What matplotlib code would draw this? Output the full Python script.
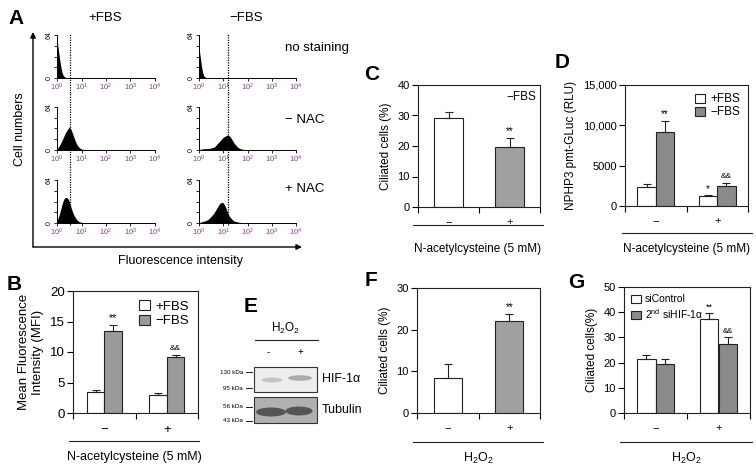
import numpy as np
import matplotlib
matplotlib.use('Agg')
import matplotlib.pyplot as plt
from matplotlib.patches import Patch, Rectangle, Ellipse

plt.rcParams['font.family'] = ['Liberation Sans', 'DejaVu Sans']
plt.rcParams['mathtext.fontset'] = 'custom'
plt.rcParams['mathtext.rm'] = 'Liberation Sans'
plt.rcParams['mathtext.it'] = 'Liberation Sans:italic'
plt.rcParams['mathtext.bf'] = 'Liberation Sans:bold'

# ---- data ----
# flow cytometry histograms (log10 fluorescence bins, counts 0-64)
BIN_LOG = [0.00, 0.05, 0.10, 0.15, 0.20, 0.25, 0.30, 0.35, 0.40, 0.45,
           0.50, 0.55, 0.60, 0.65, 0.70, 0.75, 0.80, 0.85, 0.90, 0.95,
           1.00, 1.05, 1.10, 1.15, 1.20, 1.25, 1.30, 1.35, 1.40, 1.45,
           1.50, 1.55, 1.60, 1.65, 1.70, 1.75, 1.80, 1.85, 1.90, 1.95, 2.00]
plus_nostain = [57, 44, 30, 18, 9, 4, 2, 1, 0.5, 0,
                0, 0, 0, 0, 0, 0, 0, 0, 0, 0,
                0, 0, 0, 0, 0, 0, 0, 0, 0, 0,
                0, 0, 0, 0, 0, 0, 0, 0, 0, 0, 0]
plus_nacminus = [0, 4, 7, 10, 14, 18, 22, 26, 29, 32,
                 34, 32, 28, 23, 18, 13, 9, 6, 4, 2.5,
                 1.5, 1, 0.5, 0, 0, 0, 0, 0, 0, 0,
                 0, 0, 0, 0, 0, 0, 0, 0, 0, 0, 0]
plus_nacplus = [2, 8, 13, 20, 27, 33, 37, 38, 38, 36,
                32, 26, 20, 15, 11, 8, 5, 3.5, 2, 1.5,
                1, 0.5, 0.5, 0, 0, 0, 0, 0, 0, 0,
                0, 0, 0, 0, 0, 0, 0, 0, 0, 0, 0]
minus_nostain = [45, 32, 18, 8, 3, 1.5, 0.5, 0, 0, 0,
                 0, 0, 0, 0, 0, 0, 0, 0, 0, 0,
                 0, 0, 0, 0, 0, 0, 0, 0, 0, 0,
                 0, 0, 0, 0, 0, 0, 0, 0, 0, 0, 0]
minus_nacminus = [0, 1, 1.5, 1.5, 2, 2, 2, 2, 2.5, 2.5,
                  3, 3.5, 4, 5, 7, 9, 11, 13, 15, 17,
                  19, 20, 21, 22, 22, 21, 19, 16, 13, 10,
                  8, 6, 4, 3, 2, 1.5, 1, 1, 0.5, 0, 0]
minus_nacplus = [0, 1, 2, 2, 3, 3, 4, 5, 6, 8,
                 10, 12, 14, 17, 20, 23, 26, 29, 30, 31,
                 30, 27, 23, 18, 14, 10, 8, 6, 4, 3,
                 2.5, 2, 1.5, 1, 1, 0.5, 0.5, 0, 0, 0, 0]
GATE_LOG = {'+FBS': 0.53, '−FBS': 1.2}
ROW_NAMES = ['no staining', '− NAC', '+ NAC']

# B: mean fluorescence intensity
B_plus = [3.5, 3.0]
B_plus_err = [0.3, 0.25]
B_minus = [13.4, 9.1]
B_minus_err = [1.0, 0.45]

# C: ciliated cells, -FBS
C_vals = [29.3, 19.7]
C_err = [2.0, 3.0]

# D: NPHP3 pmt-GLuc
D_plus = [2300, 1200]
D_plus_err = [450, 180]
D_minus = [9200, 2450]
D_minus_err = [1300, 450]

# F: ciliated cells, H2O2
F_vals = [8.5, 22.2]
F_err = [3.2, 1.5]

# G: siControl vs siHIF-1a
G_ctrl = [21.6, 37.5]
G_ctrl_err = [1.5, 2.0]
G_si = [19.3, 27.2]
G_si_err = [2.3, 2.9]

CATS = ['−', '+']

W, H = 756, 471
fig = plt.figure(figsize=(W / 100, H / 100), dpi=100)


def px(x0, y0, x1, y1):
    return [x0 / W, 1 - y1 / H, (x1 - x0) / W, (y1 - y0) / H]


ov = fig.add_axes([0, 0, 1, 1])
ov.set_xlim(0, W)
ov.set_ylim(H, 0)
ov.axis('off')
ov.set_zorder(10)

EDGE = '#222222'

# ---- panel A ----
hist_data = {('+FBS', 0): plus_nostain, ('+FBS', 1): plus_nacminus, ('+FBS', 2): plus_nacplus,
             ('−FBS', 0): minus_nostain, ('−FBS', 1): minus_nacminus, ('−FBS', 2): minus_nacplus}
cols = [('+FBS', 57, 155), ('−FBS', 199, 296)]
rows = [(35, 78), (107, 150), (180, 223)]
xb = 10 ** np.array(BIN_LOG)
for name, x0, x1 in cols:
    for r, (y0, y1) in enumerate(rows):
        ax = fig.add_axes(px(x0, y0, x1, y1))
        ax.fill_between(xb, hist_data[(name, r)], color='black', lw=0)
        ax.set_xscale('log')
        ax.set_xlim(1, 1e4)
        ax.set_xticks([1, 10, 100, 1000, 10000])
        ax.set_xticklabels(['$10^{0}$', '$10^{1}$', '$10^{2}$', '$10^{3}$', '$10^{4}$'])
        ax.set_ylim(0, 64)
        ax.set_yticks([0, 64])
        ax.set_yticklabels(['0', '64'], rotation=90, va='center', fontsize=5)
        ax.set_yticks([16, 32, 48], minor=True)
        ax.tick_params(axis='y', which='both', length=2, width=0.6, pad=1)
        ax.tick_params(axis='x', which='major', length=2, width=0.6, pad=1,
                       labelsize=5.5, labelcolor='#8a3f95')
        ax.tick_params(axis='x', which='minor', length=1, width=0.4)
        for s in ['top', 'right']:
            ax.spines[s].set_visible(False)
        for s in ['left', 'bottom']:
            ax.spines[s].set_linewidth(0.7)
        ymin = -0.34 if r < 2 else -0.05
        ymax = 1.05 if r == 0 else 1.34
        ax.axvline(10 ** GATE_LOG[name], ymin=ymin, ymax=ymax, ls=(0, (1, 1)),
                   lw=0.9, color='black', clip_on=False)
        ax.patch.set_visible(False)

ov.text(8, 19, 'A', fontsize=15, fontweight='bold', ha='left', va='center')
ov.text(105, 18, '+FBS', fontsize=9.5, ha='center', va='center')
ov.text(246, 18, '−FBS', fontsize=9.5, ha='center', va='center')
for label, yy in zip(ROW_NAMES, [48, 120, 189]):
    ov.text(285, yy, label, fontsize=9.5, ha='left', va='center')
ov.annotate('', xy=(33, 32), xytext=(33, 247),
            arrowprops=dict(arrowstyle='-|>', lw=1, color='black', mutation_scale=8,
                            shrinkA=0, shrinkB=0))
ov.annotate('', xy=(302, 247), xytext=(33, 247),
            arrowprops=dict(arrowstyle='-|>', lw=1, color='black', mutation_scale=8,
                            shrinkA=0, shrinkB=0))
ov.text(20, 129, 'Cell numbers', fontsize=9, rotation=90, ha='center', va='center')
ov.text(180, 261, 'Fluorescence intensity', fontsize=9, ha='center', va='center')


# ---- bar panels ----
def bar_axes(rect, ylim, yticks, yticklabels, ylabel, fs_tick=8, fs_label=8.5, pad=7):
    ax = fig.add_axes(px(*rect))
    ax.set_xlim(-0.5, 1.5)
    ax.set_ylim(*ylim)
    ax.set_yticks(yticks)
    ax.set_yticklabels(yticklabels, fontsize=fs_tick)
    ax.set_xticks([0, 1])
    ax.set_xticklabels(CATS, fontsize=fs_tick)
    ax.set_xticks([-0.5, 0.5, 1.5], minor=True)
    ax.tick_params(axis='x', which='major', length=0, pad=pad)
    ax.tick_params(axis='x', which='minor', length=4, width=0.8, direction='out')
    ax.tick_params(axis='y', length=4, width=0.8, direction='out', pad=2)
    for s in ax.spines.values():
        s.set_linewidth(0.8)
        s.set_color(EDGE)
    ax.set_ylabel(ylabel, fontsize=fs_label, labelpad=4)
    return ax


def draw_bars(ax, xs, vals, errs, color, width):
    ax.bar(xs, vals, width, color=color, edgecolor=EDGE, linewidth=0.8, zorder=2)
    ax.errorbar(xs, vals, yerr=[[0] * len(vals), errs], fmt='none', ecolor=EDGE,
                elinewidth=0.8, capsize=3, capthick=0.8, zorder=3)


def mark(ax, x, top, text, dy, fs=7):
    ax.text(x, top + dy, text, ha='center', va='bottom', fontsize=fs)


def under(x0, x1, yline, ytext, text, fs=8.5):
    ov.plot([x0, x1], [yline, yline], color=EDGE, lw=0.8)
    ov.text((x0 + x1) / 2, ytext, text, fontsize=fs, ha='center', va='center')


# B
axB = bar_axes((73, 291, 198, 413), (0, 20), [0, 5, 10, 15, 20],
               ['0', '5', '10', '15', '20'], 'Mean Fluorescence\nIntensity (MFI)',
               fs_tick=9.5, fs_label=9.5, pad=8)
draw_bars(axB, [-0.14, 0.86], B_plus, B_plus_err, 'white', 0.28)
draw_bars(axB, [0.14, 1.14], B_minus, B_minus_err, '#9a9a9a', 0.28)
mark(axB, 0.14, B_minus[0] + B_minus_err[0], '**', 0.4, 7.5)
mark(axB, 1.14, B_minus[1] + B_minus_err[1], '&&', 0.5, 6)
axB.legend(handles=[Patch(facecolor='white', edgecolor=EDGE, lw=0.8, label='+FBS'),
                    Patch(facecolor='#9a9a9a', edgecolor=EDGE, lw=0.8, label='−FBS')],
           loc='upper right', frameon=False, fontsize=9.5, handlelength=0.8,
           handleheight=0.8, handletextpad=0.4, labelspacing=0.15, borderaxespad=0.3)
ov.text(14, 285, 'B', fontsize=15, fontweight='bold', ha='center', va='center')
under(69, 199, 441, 457, 'N-acetylcysteine (5 mM)', fs=9)

# C
axC = bar_axes((418, 85, 540, 207), (0, 40), [0, 10, 20, 30, 40],
               ['0', '10', '20', '30', '40'], 'Ciliated cells (%)')
axC.bar([0], [C_vals[0]], 0.47, color='white', edgecolor=EDGE, lw=0.8, zorder=2)
axC.bar([1], [C_vals[1]], 0.47, color='#a0a0a0', edgecolor=EDGE, lw=0.8, zorder=2)
axC.errorbar([0, 1], C_vals, yerr=[[0, 0], C_err], fmt='none', ecolor=EDGE,
             elinewidth=0.8, capsize=3, capthick=0.8, zorder=3)
mark(axC, 1, C_vals[1] + C_err[1], '**', 0.6)
axC.text(0.97, 0.9, '−FBS', transform=axC.transAxes, ha='right', va='center', fontsize=8.5)
ov.text(372, 75, 'C', fontsize=15, fontweight='bold', ha='center', va='center')
under(413, 543, 225, 249, 'N-acetylcysteine (5 mM)')

# D
axD = bar_axes((625, 85, 748, 206), (0, 15000), [0, 5000, 10000, 15000],
               ['0', '5000', '10,000', '15,000'], 'NPHP3 pmt-GLuc (RLU)')
draw_bars(axD, [-0.15, 0.85], D_plus, D_plus_err, 'white', 0.3)
draw_bars(axD, [0.15, 1.15], D_minus, D_minus_err, '#8a8a8a', 0.3)
mark(axD, 0.15, D_minus[0] + D_minus_err[0], '**', 250)
mark(axD, -0.15 + 1, D_plus[1] + D_plus_err[1], '*', 150)
mark(axD, 1.15, D_minus[1] + D_minus_err[1], '&&', 300, 6)
axD.legend(handles=[Patch(facecolor='white', edgecolor=EDGE, lw=0.8, label='+FBS'),
                    Patch(facecolor='#8a8a8a', edgecolor=EDGE, lw=0.8, label='−FBS')],
           loc='upper right', frameon=False, fontsize=8.5, handlelength=0.9,
           handleheight=0.8, handletextpad=0.4, labelspacing=0.1, borderaxespad=0.3)
ov.text(562, 62, 'D', fontsize=15, fontweight='bold', ha='center', va='center')
under(622, 752, 233, 249, 'N-acetylcysteine (5 mM)')

# E: western blot
ov.text(251, 307, 'E', fontsize=15, fontweight='bold', ha='center', va='center')
ov.text(286, 328, 'H$_2$O$_2$', fontsize=8.5, ha='center', va='center')
ov.plot([255, 318], [340, 340], color=EDGE, lw=0.8)
ov.text(268, 352, '-', fontsize=7, ha='center', va='center')
ov.text(300, 352, '+', fontsize=7, ha='center', va='center')
ov.add_patch(Rectangle((254, 367), 63, 25, facecolor='#ededed', edgecolor='#333333', lw=0.8))
ov.add_patch(Ellipse((272, 380), 21, 5, facecolor='#c6c6c6', edgecolor='none'))
ov.add_patch(Ellipse((300, 378), 24, 5.5, facecolor='#acacac', edgecolor='none'))
ov.add_patch(Rectangle((254, 397), 63, 26, facecolor='#b0b0b0', edgecolor='#333333', lw=0.8))
ov.add_patch(Ellipse((271, 412), 30, 9, facecolor='#555555', edgecolor='none'))
ov.add_patch(Ellipse((299, 411), 27, 9, facecolor='#555555', edgecolor='none'))
for lab, yy in zip(['130 kDa', '95 kDa', '56 kDa', '43 kDa'], [372, 388, 407, 421]):
    ov.text(243, yy, lab, fontsize=4.5, ha='right', va='center')
    ov.plot([246, 252], [yy, yy], color=EDGE, lw=0.7)
ov.text(322, 379, 'HIF-1α', fontsize=9, ha='left', va='center')
ov.text(322, 410, 'Tubulin', fontsize=9, ha='left', va='center')

# F
axF = bar_axes((417, 288, 540, 413), (0, 30), [0, 10, 20, 30],
               ['0', '10', '20', '30'], 'Ciliated cells (%)')
axF.bar([0], [F_vals[0]], 0.45, color='white', edgecolor=EDGE, lw=0.8, zorder=2)
axF.bar([1], [F_vals[1]], 0.45, color='#a0a0a0', edgecolor=EDGE, lw=0.8, zorder=2)
axF.errorbar([0, 1], F_vals, yerr=[[0, 0], F_err], fmt='none', ecolor=EDGE,
             elinewidth=0.8, capsize=3, capthick=0.8, zorder=3)
mark(axF, 1, F_vals[1] + F_err[1], '**', 0.5)
ov.text(371, 280, 'F', fontsize=15, fontweight='bold', ha='center', va='center')
under(413, 543, 442, 458, 'H$_2$O$_2$', fs=9)

# G
axG = bar_axes((624, 287, 750, 413), (0, 50), [0, 10, 20, 30, 40, 50],
               ['0', '10', '20', '30', '40', '50'], 'Ciliated cells(%)')
draw_bars(axG, [-0.15, 0.85], G_ctrl, G_ctrl_err, 'white', 0.3)
draw_bars(axG, [0.15, 1.15], G_si, G_si_err, '#8a8a8a', 0.3)
mark(axG, 0.85, G_ctrl[1] + G_ctrl_err[1], '**', 0.6, 6.5)
mark(axG, 1.15, G_si[1] + G_si_err[1], '&&', 1.0, 5.5)
axG.legend(handles=[Patch(facecolor='white', edgecolor=EDGE, lw=0.8, label='siControl'),
                    Patch(facecolor='#8a8a8a', edgecolor=EDGE, lw=0.8,
                          label='2$^{\\rm nd}$ siHIF-1α')],
           loc='upper left', frameon=False, fontsize=7.5, handlelength=0.9,
           handleheight=0.8, handletextpad=0.4, labelspacing=0.25, borderaxespad=0.3)
ov.text(576, 282, 'G', fontsize=15, fontweight='bold', ha='center', va='center')
under(620, 752, 442, 458, 'H$_2$O$_2$', fs=9)

fig.savefig('out.png', dpi=100)
